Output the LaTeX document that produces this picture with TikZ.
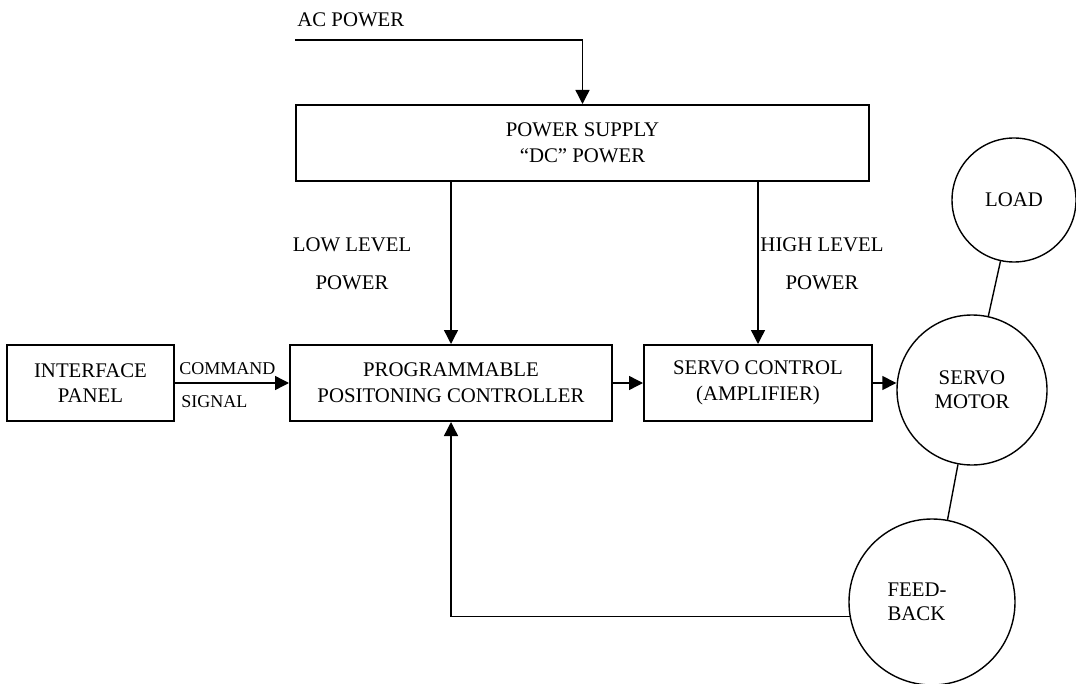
\documentclass[tikz,border=0pt]{standalone}
\usepackage{fontspec}
\setmainfont{Liberation Serif}
\usetikzlibrary{positioning, shapes, arrows.meta}

\begin{document}
\begin{tikzpicture}[x=0.5pt, y=-0.5pt,
    block/.style={draw, line width=1pt, minimum height=38pt, inner sep=0pt, align=center, font=\fontsize{10.4}{12.8}\selectfont},
    disc/.style={draw, circle, line width=0.7pt, inner sep=0pt, align=center, font=\fontsize{10.4}{11.8}\selectfont},
    lbl/.style={inner sep=0pt, align=center, font=\fontsize{10.4}{19}\selectfont},
    sig/.style={inner sep=0pt, font=\fontsize{9}{11}\selectfont},
    wire/.style={line width=0.7pt},
    >={Triangle[length=7pt, width=7pt]}]
  \useasboundingbox (0,0) rectangle (1076,684);

  % blocks
  \node[block, minimum width=161pt] (ctrl) at (451,383) {PROGRAMMABLE\\POSITONING CONTROLLER};
  \node[block, minimum width=83.5pt, left=57pt of ctrl] (ifp) {INTERFACE\\PANEL};
  \node[block, minimum width=114pt, right=15pt of ctrl] (servo) {SERVO CONTROL\\(AMPLIFIER)};
  \node[block, minimum width=286.5pt] (psu) at (582.5,143) {POWER SUPPLY\\“DC” POWER};

  % circles
  \node[disc, minimum size=62pt] (load) at (1014,200) {LOAD};
  \node[disc, minimum size=75pt] (motor) at (972,390) {SERVO\\MOTOR};
  \node[disc, minimum size=83pt, label={[align=left, inner sep=0pt, xshift=-7.5pt, font=\fontsize{10.4}{12}\selectfont]center:FEED-\\BACK}] (fb) at (932,602) {};

  % texts
  \coordinate (acin) at (295,40);
  \node[lbl, anchor=base west] (ac) at (297,27) {AC POWER};
  \node[lbl] (low) at (352,264) {LOW LEVEL\\POWER};
  \node[lbl] (high) at (822,264) {HIGH LEVEL\\POWER};
  \node[sig, anchor=base west] (cmd) at (179,374) {COMMAND};
  \node[sig, anchor=base west] (sgn) at (181,407) {SIGNAL};

  % connections
  \draw[wire, ->] (acin) -| (psu.north);
  \draw[wire, ->] (ctrl.north |- psu.south) -- (ctrl.north);
  \draw[wire, ->] (servo.north |- psu.south) -- (servo.north);
  \draw[wire, ->] (ifp.east) -- (ctrl.west);
  \draw[wire, ->] (ctrl.east) -- (servo.west);
  \draw[wire, ->] (servo.east) -- (servo.east -| motor.west);
  \draw[wire] (load) -- (motor);
  \draw[wire] (motor) -- (fb);
  \draw[wire, ->] (fb.190) -| (ctrl.south);
\end{tikzpicture}
\end{document}
